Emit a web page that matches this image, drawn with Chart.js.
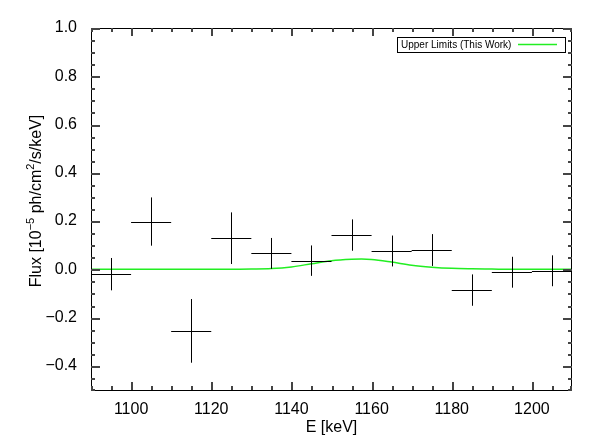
<!DOCTYPE html>
<html lang="en">
<head>
    <meta charset="UTF-8">
    <title>Flux vs Energy</title>
    <script src="https://cdn.jsdelivr.net/npm/chart.js"></script>
    <style>
        html, body { margin: 0; padding: 0; background: #ffffff; }
        #fluxChart { display: block; }
    </style>
</head>
<body>
    <canvas id="fluxChart" width="598" height="446"></canvas>

    <script>
        // measured spectrum bins (10 keV wide)
        const binCenters = [1095, 1105, 1115, 1125, 1135, 1145, 1155, 1165, 1175, 1185, 1195, 1205];
        const binHalfWidth = 5;
        const fluxValues = [-0.020, 0.198, -0.255, 0.129, 0.066, 0.036, 0.142, 0.076, 0.080, -0.086, -0.012, -0.006];
        const fluxErrors = [0.067, 0.100, 0.132, 0.107, 0.064, 0.063, 0.065, 0.064, 0.066, 0.065, 0.064, 0.064];

        // upper limit curve (green)
        const limitEnergy = [1090, 1100, 1110, 1120, 1125, 1130, 1135, 1140, 1145, 1150, 1155, 1157.5, 1160, 1165, 1170, 1175, 1180, 1185, 1190, 1195, 1200, 1210];
        const limitFlux = [0.0, 0.0, 0.0, 0.0, 0.0, 0.001, 0.003, 0.010, 0.023, 0.036, 0.042, 0.043, 0.041, 0.030, 0.017, 0.009, 0.004, 0.002, 0.001, 0.0, 0.0, 0.0];

        // axis ticks
        const xTicks = [1100, 1120, 1140, 1160, 1180, 1200];
        const yTicks = [-0.4, -0.2, 0.0, 0.2, 0.4, 0.6, 0.8, 1.0];

        const FONT = 'Liberation Sans, Arial, Helvetica, sans-serif';

        const framePlugin = {
            id: 'frame',
            afterDatasetsDraw(chart) {
                const c = chart.ctx;
                const xs = chart.scales.x;
                const ys = chart.scales.y;
                const a = chart.chartArea;

                // error crosses
                c.save();
                c.beginPath();
                c.rect(a.left, a.top, a.right - a.left, a.bottom - a.top);
                c.clip();
                c.strokeStyle = '#000';
                c.lineWidth = 1;
                for (let i = 0; i < binCenters.length; i++) {
                    const px = Math.round(xs.getPixelForValue(binCenters[i])) + 0.5;
                    const py = Math.round(ys.getPixelForValue(fluxValues[i])) + 0.5;
                    const x0 = xs.getPixelForValue(binCenters[i] - binHalfWidth);
                    const x1 = xs.getPixelForValue(binCenters[i] + binHalfWidth);
                    const y0 = ys.getPixelForValue(fluxValues[i] - fluxErrors[i]);
                    const y1 = ys.getPixelForValue(fluxValues[i] + fluxErrors[i]);
                    c.beginPath();
                    c.moveTo(x0, py); c.lineTo(x1, py);
                    c.moveTo(px, y0); c.lineTo(px, y1);
                    c.stroke();
                }
                c.restore();
            },
            afterDraw(chart) {
                const c = chart.ctx;
                const xs = chart.scales.x;
                const ys = chart.scales.y;
                const a = chart.chartArea;
                c.save();

                // frame box
                c.fillStyle = '#000';
                const L = Math.round(a.left), R = Math.round(a.right) - 1;
                const T = Math.round(a.top), B = Math.round(a.bottom);
                c.fillRect(L, T, R - L + 1, 1);
                c.fillRect(L, B, R - L + 1, 1);
                c.fillRect(L, T, 1, B - T + 1);
                c.fillRect(R, T, 1, B - T + 1);

                // inward ticks on all four sides
                c.fillStyle = '#444';
                for (let v = 1090; v <= 1210; v += 5) {
                    const px = Math.min(Math.round(xs.getPixelForValue(v)), R - 1);
                    const len = (v % 20 === 0) ? 8 : 4;
                    c.fillRect(px, B - len, 2, len);
                    c.fillRect(px, T, 2, len);
                }
                for (let k = -10; k <= 20; k++) {
                    const py = Math.min(Math.round(ys.getPixelForValue(k * 0.05)), B - 1);
                    const len = (k % 4 === 0) ? 9 : 4;
                    c.fillRect(L, py, len, 2);
                    c.fillRect(R - len + 1, py, len, 2);
                }

                // legend
                c.fillStyle = '#fff';
                c.fillRect(397, 37, 168, 15);
                c.strokeStyle = '#000';
                c.lineWidth = 1;
                c.strokeRect(397.5, 37.5, 168, 15);
                c.fillStyle = '#000';
                c.font = '10px ' + FONT;
                c.textBaseline = 'alphabetic';
                c.textAlign = 'left';
                c.fillText(chart.data.datasets[1].label, 401, 48);
                c.strokeStyle = chart.data.datasets[1].borderColor;
                c.lineWidth = 1.5;
                c.beginPath();
                c.moveTo(518, 44.5); c.lineTo(557, 44.5);
                c.stroke();

                // y axis title with superscripts
                const parts = [
                    ['Flux [10', 16, 0],
                    ['\u22125', 11, -7],
                    [' ph/cm', 16, 0],
                    ['2', 11, -7],
                    ['/s/keV]', 16, 0]
                ];
                let total = 0;
                parts.forEach(p => { c.font = p[1] + 'px ' + FONT; total += c.measureText(p[0]).width; });
                c.translate(41, 201);
                c.rotate(-Math.PI / 2);
                c.fillStyle = '#000';
                let cx = -total / 2;
                parts.forEach(p => {
                    c.font = p[1] + 'px ' + FONT;
                    c.fillText(p[0], cx, p[2]);
                    cx += c.measureText(p[0]).width;
                });
                c.restore();
            }
        };

        const ctx = document.getElementById('fluxChart').getContext('2d');
        const fluxChart = new Chart(ctx, {
            type: 'scatter',
            data: {
                datasets: [{
                    label: 'Flux',
                    data: binCenters.map((e, i) => ({ x: e, y: fluxValues[i] })),
                    pointRadius: 0,
                    showLine: false
                }, {
                    label: 'Upper Limits (This Work)',
                    type: 'line',
                    data: limitEnergy.map((e, i) => ({ x: e, y: limitFlux[i] })),
                    borderColor: '#22ee22',
                    borderWidth: 1.5,
                    pointRadius: 0,
                    fill: false,
                    cubicInterpolationMode: 'monotone'
                }]
            },
            options: {
                responsive: false,
                animation: false,
                devicePixelRatio: 1,
                layout: { padding: { top: 28, right: 26, left: 0, bottom: 0 } },
                plugins: {
                    legend: { display: false },
                    tooltip: { enabled: false }
                },
                scales: {
                    x: {
                        type: 'linear',
                        min: 1090,
                        max: 1210,
                        afterBuildTicks: s => { s.ticks = xTicks.map(v => ({ value: v })); },
                        afterFit: s => { s.height = 56; },
                        grid: { display: false },
                        border: { display: false },
                        ticks: {
                            color: '#000',
                            padding: 2,
                            maxRotation: 0,
                            font: { family: FONT, size: 16 },
                            callback: v => String(v)
                        },
                        title: {
                            display: true,
                            text: 'E [keV]',
                            color: '#000',
                            font: { family: FONT, size: 16 },
                            padding: { top: 0, bottom: 9 }
                        }
                    },
                    y: {
                        min: -0.5,
                        max: 1.0,
                        afterBuildTicks: s => { s.ticks = yTicks.map(v => ({ value: v })); },
                        afterFit: s => { s.width = 91; },
                        grid: { display: false },
                        border: { display: false },
                        ticks: {
                            color: '#000',
                            padding: 6,
                            font: { family: FONT, size: 16 },
                            callback: v => (v < 0 ? '\u2212' : '') + Math.abs(v).toFixed(1)
                        }
                    }
                }
            },
            plugins: [framePlugin]
        });
    </script>
</body>
</html>
